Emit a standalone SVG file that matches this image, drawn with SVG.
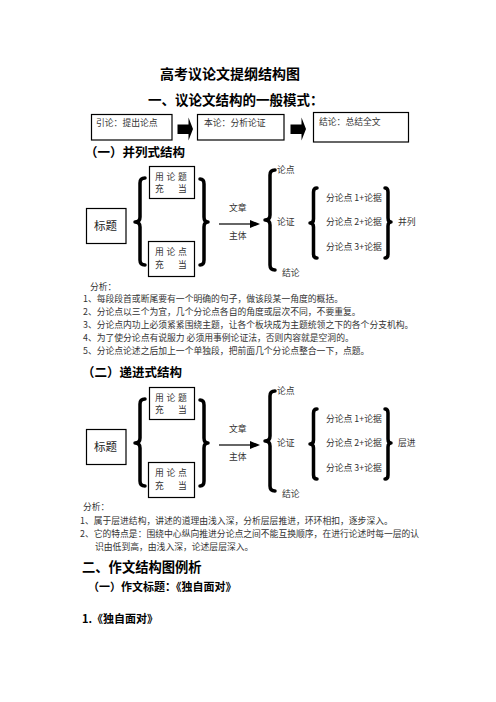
<svg xmlns="http://www.w3.org/2000/svg" width="496" height="702" viewBox="0 0 496 702">
<style>
text{font-family:"Noto Sans CJK SC","Liberation Sans",sans-serif;}
.h{font-weight:bold;fill:#000;}
.s{font-size:8.8px;fill:#333;}
.box{fill:#fff;stroke:#000;stroke-width:1.2;}
.brace{fill:none;stroke:#000;stroke-width:3.5;stroke-linecap:round;stroke-linejoin:round;}
.ln{stroke:#000;stroke-width:1.2;}
</style>
<defs>
<g id="barrow"><polygon points="0,7 11,7 11,0 15.5,11.5 11,23 11,16.5 0,16.5" fill="#000"/></g>
</defs>
<rect width="496" height="702" fill="#fff"/>

<text class="h" x="160" y="79" font-size="14">高考议论文提纲结构图</text>
<text class="h" x="148" y="105" font-size="13.5">一、议论文结构的一般模式：</text>

<g id="n-yinlun"><rect class="box" x="91.5" y="114.5" width="80.5" height="25.5"/><text class="s" x="96" y="126">引论：提出论点</text></g>
<g id="n-benlun"><rect class="box" x="197.5" y="114.5" width="86.5" height="25.5"/><text class="s" x="204" y="126">本论：分析论证</text></g>
<g id="n-jielun"><rect class="box" x="313.5" y="112.5" width="95" height="29.5"/><text class="s" x="319" y="125">结论：总结全文</text></g>
<g id="top-arrows"><use href="#barrow" x="177.5" y="117.5"/><use href="#barrow" x="290.5" y="117.5"/></g>

<text class="h" x="85" y="157" font-size="12.5">（一）并列式结构</text>

<g id="diagram1">
<g id="n1-title"><rect class="box" x="86.5" y="208.5" width="39.5" height="35"/><text x="94" y="230" font-size="11.5" fill="#222">标题</text></g>
<g id="n1-lunti"><rect class="box" x="149.5" y="166.5" width="45" height="32"/>
<text class="s" x="155" y="180">用</text><text class="s" x="166.5" y="180">论</text><text class="s" x="178" y="180">题</text>
<text class="s" x="155" y="192">充</text><text class="s" x="178" y="192">当</text></g>
<g id="n1-lundian"><rect class="box" x="148.5" y="241.5" width="46" height="35"/>
<text class="s" x="155" y="255">用</text><text class="s" x="166.5" y="255">论</text><text class="s" x="178" y="255">点</text>
<text class="s" x="155" y="268">充</text><text class="s" x="178" y="268">当</text></g>
<g id="c1-connectors">
<path class="brace" d="M145,178 Q140,178 140,183 V217 Q140,222 135,222 Q140,222 140,227 V260 Q140,265 145,265"/>
<path class="brace" d="M200,179 Q204,179 204,184 V217 Q204,222 208,222 Q204,222 204,227 V260 Q204,265 200,265"/>
<line class="ln" x1="219" y1="224" x2="251" y2="224"/><polygon points="250,220 260,224 250,228" fill="#000"/>
<path class="brace" d="M275,170 Q270,170 270,175 V215 Q270,220 265,220 Q270,220 270,225 V265 Q270,270 275,270"/>
<path class="brace" d="M317,188 Q313.5,188 313.5,192 V219 Q313.5,223 310,223 Q313.5,223 313.5,227 V254 Q313.5,258 317,258"/>
<path class="brace" d="M385,188 Q388,188 388,192 V218 Q388,222 391,222 Q388,222 388,226 V254 Q388,258 385,258"/>
</g>
<text class="s" x="229" y="211">文章</text><text class="s" x="229" y="239">主体</text>
<text class="s" x="277" y="173">论点</text><text class="s" x="277" y="225">论证</text><text class="s" x="282" y="276">结论</text>
<text class="s" x="326" y="201">分论点 1+论据</text><text class="s" x="326" y="225">分论点 2+论据</text><text class="s" x="326" y="250">分论点 3+论据</text>
<text class="s" x="398" y="225">并列</text>
</g>

<text class="s" x="90" y="290">分析：</text>
<text class="s" x="83" y="302">1、每段段首或断尾要有一个明确的句子，做该段某一角度的概括。</text>
<text class="s" x="83" y="315">2、分论点以三个为宜，几个分论点各自的角度或层次不同，不要重复。</text>
<text class="s" x="83" y="328">3、分论点内功上必须紧紧围绕主题，让各个板块成为主题统领之下的各个分支机构。</text>
<text class="s" x="83" y="341">4、为了使分论点有说服力 必须用事例论证法，否则内容就是空洞的。</text>
<text class="s" x="83" y="354">5、分论点论述之后加上一个单独段，把前面几个分论点整合一下，点题。</text>

<text class="h" x="82" y="377" font-size="12.5">（二）递进式结构</text>

<g id="diagram2" transform="translate(0,221)">
<g id="n2-title"><rect class="box" x="86.5" y="208.5" width="39.5" height="35"/><text x="94" y="230" font-size="11.5" fill="#222">标题</text></g>
<g id="n2-lunti"><rect class="box" x="149.5" y="166.5" width="45" height="32"/>
<text class="s" x="155" y="180">用</text><text class="s" x="166.5" y="180">论</text><text class="s" x="178" y="180">题</text>
<text class="s" x="155" y="192">充</text><text class="s" x="178" y="192">当</text></g>
<g id="n2-lundian"><rect class="box" x="148.5" y="241.5" width="46" height="35"/>
<text class="s" x="155" y="255">用</text><text class="s" x="166.5" y="255">论</text><text class="s" x="178" y="255">点</text>
<text class="s" x="155" y="268">充</text><text class="s" x="178" y="268">当</text></g>
<g id="c2-connectors">
<path class="brace" d="M145,178 Q140,178 140,183 V217 Q140,222 135,222 Q140,222 140,227 V260 Q140,265 145,265"/>
<path class="brace" d="M200,179 Q204,179 204,184 V217 Q204,222 208,222 Q204,222 204,227 V260 Q204,265 200,265"/>
<line class="ln" x1="219" y1="224" x2="251" y2="224"/><polygon points="250,220 260,224 250,228" fill="#000"/>
<path class="brace" d="M275,170 Q270,170 270,175 V215 Q270,220 265,220 Q270,220 270,225 V265 Q270,270 275,270"/>
<path class="brace" d="M317,188 Q313.5,188 313.5,192 V219 Q313.5,223 310,223 Q313.5,223 313.5,227 V254 Q313.5,258 317,258"/>
<path class="brace" d="M385,188 Q388,188 388,192 V218 Q388,222 391,222 Q388,222 388,226 V254 Q388,258 385,258"/>
</g>
<text class="s" x="229" y="211">文章</text><text class="s" x="229" y="239">主体</text>
<text class="s" x="277" y="173">论点</text><text class="s" x="277" y="225">论证</text><text class="s" x="282" y="276">结论</text>
<text class="s" x="326" y="201">分论点 1+论据</text><text class="s" x="326" y="225">分论点 2+论据</text><text class="s" x="326" y="250">分论点 3+论据</text>
<text class="s" x="398" y="225">层进</text>
</g>

<text class="s" x="83" y="510">分析：</text>
<text class="s" x="80" y="524">1、属于层进结构，讲述的道理由浅入深，分析层层推进，环环相扣，逐步深入。</text>
<text class="s" x="80" y="537">2、它的特点是：围绕中心纵向推进分论点之间不能互换顺序，在进行论述时每一层的认</text>
<text class="s" x="95" y="550">识由低到高，由浅入深，论述层层深入。</text>

<text class="h" x="82" y="572" font-size="13.3">二、作文结构图例析</text>
<text class="h" x="88" y="591" font-size="11">（一）作文标题：《独自面对》</text>
<text class="h" x="82" y="623" font-size="11">1.《独自面对》</text>
</svg>
